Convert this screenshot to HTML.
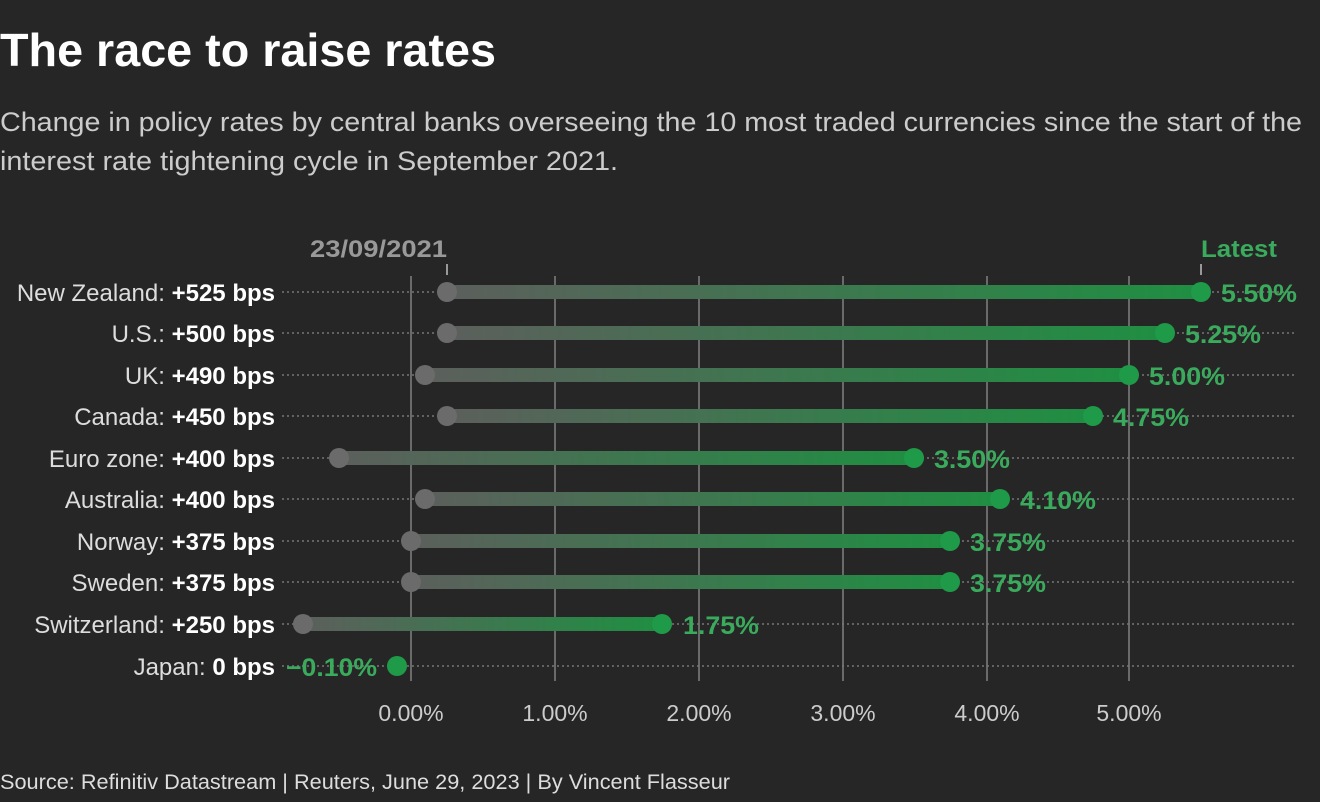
<!DOCTYPE html>
<html><head><meta charset="utf-8"><style>
html,body{margin:0;padding:0;background:#262626;}
svg{display:block;font-family:"Liberation Sans",sans-serif;}
</style></head><body>
<svg width="1320" height="802" viewBox="0 0 1320 802" xmlns="http://www.w3.org/2000/svg">
<defs>
<linearGradient id="g" x1="0" x2="1" y1="0" y2="0">
<stop offset="0" stop-color="#5c5f5c"/><stop offset="1" stop-color="#1f8f42"/>
</linearGradient>
</defs>
<rect width="1320" height="802" fill="#262626"/>
<text x="0" y="66" fill="#fff" font-size="46" font-weight="bold" textLength="496" lengthAdjust="spacingAndGlyphs">The race to raise rates</text>
<text x="0" y="131" fill="#ccc" font-size="27" textLength="1302" lengthAdjust="spacingAndGlyphs">Change in policy rates by central banks overseeing the 10 most traded currencies since the start of the</text>
<text x="0" y="170" fill="#ccc" font-size="27" textLength="618" lengthAdjust="spacingAndGlyphs">interest rate tightening cycle in September 2021.</text>

<g stroke="#6a6a6a" stroke-width="2">
<line x1="411" y1="276" x2="411" y2="681"/>
<line x1="555" y1="276" x2="555" y2="681"/>
<line x1="699" y1="276" x2="699" y2="681"/>
<line x1="843" y1="276" x2="843" y2="681"/>
<line x1="987" y1="276" x2="987" y2="681"/>
<line x1="1129" y1="276" x2="1129" y2="681"/>
</g>
<g stroke="#777" stroke-width="1.5" stroke-dasharray="2,3">
<line x1="282" y1="292" x2="1297" y2="292"/>
<line x1="282" y1="333" x2="1297" y2="333"/>
<line x1="282" y1="375" x2="1297" y2="375"/>
<line x1="282" y1="416" x2="1297" y2="416"/>
<line x1="282" y1="458" x2="1297" y2="458"/>
<line x1="282" y1="499" x2="1297" y2="499"/>
<line x1="282" y1="541" x2="1297" y2="541"/>
<line x1="282" y1="582" x2="1297" y2="582"/>
<line x1="282" y1="624" x2="1297" y2="624"/>
<line x1="282" y1="666" x2="1297" y2="666"/>
</g>
<g stroke="#999" stroke-width="2">
<line x1="447" y1="264" x2="447" y2="275"/>
<line x1="1201" y1="264" x2="1201" y2="275"/>
</g>
<text x="310" y="257" fill="#999" font-size="24" font-weight="bold" textLength="137" lengthAdjust="spacingAndGlyphs">23/09/2021</text>
<text x="1201" y="257" fill="#3aaa5c" font-size="24" font-weight="bold" textLength="76" lengthAdjust="spacingAndGlyphs">Latest</text>

<g>
<rect x="447" y="285" width="754" height="14" fill="url(#g)"/>
<rect x="447" y="326" width="718" height="14" fill="url(#g)"/>
<rect x="425" y="368" width="704" height="14" fill="url(#g)"/>
<rect x="447" y="409" width="646" height="14" fill="url(#g)"/>
<rect x="339" y="451" width="575" height="14" fill="url(#g)"/>
<rect x="425" y="492" width="575" height="14" fill="url(#g)"/>
<rect x="411" y="534" width="539" height="14" fill="url(#g)"/>
<rect x="411" y="575" width="539" height="14" fill="url(#g)"/>
<rect x="303" y="617" width="359" height="14" fill="url(#g)"/>
</g>
<g fill="#6b6b6b">
<circle cx="447" cy="292" r="10"/><circle cx="447" cy="333" r="10"/>
<circle cx="425" cy="375" r="10"/><circle cx="447" cy="416" r="10"/>
<circle cx="339" cy="458" r="10"/><circle cx="425" cy="499" r="10"/>
<circle cx="411" cy="541" r="10"/><circle cx="411" cy="582" r="10"/>
<circle cx="303" cy="624" r="10"/>
</g>
<g fill="#1f9a48">
<circle cx="1201" cy="292" r="10"/><circle cx="1165" cy="333" r="10"/>
<circle cx="1129" cy="375" r="10"/><circle cx="1093" cy="416" r="10"/>
<circle cx="914" cy="458" r="10"/><circle cx="1000" cy="499" r="10"/>
<circle cx="950" cy="541" r="10"/><circle cx="950" cy="582" r="10"/>
<circle cx="662" cy="624" r="10"/><circle cx="397" cy="666" r="10"/>
</g>
<g fill="#3aaa5c" font-size="25" font-weight="bold">
<text x="1221" y="302" textLength="76" lengthAdjust="spacingAndGlyphs">5.50%</text>
<text x="1185" y="343" textLength="76" lengthAdjust="spacingAndGlyphs">5.25%</text>
<text x="1149" y="385" textLength="76" lengthAdjust="spacingAndGlyphs">5.00%</text>
<text x="1113" y="426" textLength="76" lengthAdjust="spacingAndGlyphs">4.75%</text>
<text x="934" y="468" textLength="76" lengthAdjust="spacingAndGlyphs">3.50%</text>
<text x="1020" y="509" textLength="76" lengthAdjust="spacingAndGlyphs">4.10%</text>
<text x="970" y="551" textLength="76" lengthAdjust="spacingAndGlyphs">3.75%</text>
<text x="970" y="592" textLength="76" lengthAdjust="spacingAndGlyphs">3.75%</text>
<text x="683" y="634" textLength="76" lengthAdjust="spacingAndGlyphs">1.75%</text>
<text x="286" y="676" textLength="91" lengthAdjust="spacingAndGlyphs">−0.10%</text>
</g>
<g fill="#ddd" font-size="24" text-anchor="end">
<text x="275" y="301">New Zealand: <tspan fill="#fff" font-weight="bold">+525 bps</tspan></text>
<text x="275" y="342">U.S.: <tspan fill="#fff" font-weight="bold">+500 bps</tspan></text>
<text x="275" y="384">UK: <tspan fill="#fff" font-weight="bold">+490 bps</tspan></text>
<text x="275" y="425">Canada: <tspan fill="#fff" font-weight="bold">+450 bps</tspan></text>
<text x="275" y="467">Euro zone: <tspan fill="#fff" font-weight="bold">+400 bps</tspan></text>
<text x="275" y="508">Australia: <tspan fill="#fff" font-weight="bold">+400 bps</tspan></text>
<text x="275" y="550">Norway: <tspan fill="#fff" font-weight="bold">+375 bps</tspan></text>
<text x="275" y="591">Sweden: <tspan fill="#fff" font-weight="bold">+375 bps</tspan></text>
<text x="275" y="633">Switzerland: <tspan fill="#fff" font-weight="bold">+250 bps</tspan></text>
<text x="275" y="675">Japan: <tspan fill="#fff" font-weight="bold">0 bps</tspan></text>
</g>
<g fill="#ccc" font-size="23" text-anchor="middle">
<text x="411" y="721">0.00%</text><text x="555" y="721">1.00%</text>
<text x="699" y="721">2.00%</text><text x="843" y="721">3.00%</text>
<text x="987" y="721">4.00%</text><text x="1129" y="721">5.00%</text>
</g>
<text x="0" y="789" fill="#ddd" font-size="21" textLength="730" lengthAdjust="spacingAndGlyphs">Source: Refinitiv Datastream | Reuters, June 29, 2023 | By Vincent Flasseur</text>
</svg>
</body></html>
